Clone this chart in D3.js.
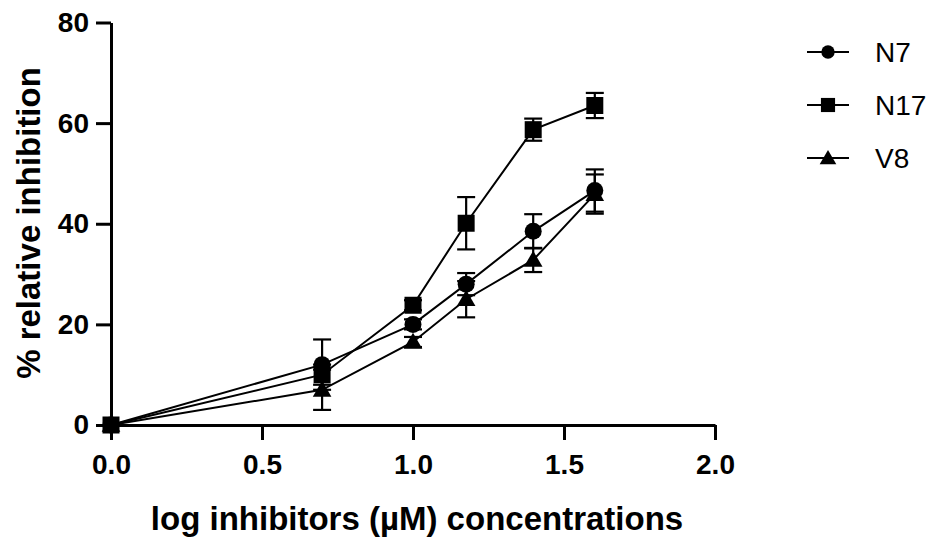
<!DOCTYPE html>
<html>
<head>
<meta charset="utf-8">
<script src="https://cdn.jsdelivr.net/npm/d3@7"></script>
<style>
  html, body { margin: 0; padding: 0; background: #fff; }
  svg { display: block; }
</style>
</head>
<body>
<script>
// ---- data ----
const xValues = [0, 0.699, 1.0, 1.176, 1.398, 1.602];
const seriesNames = ["N7", "N17", "V8"];
const n7Values  = [0, 12.0, 20.0, 28.0, 38.5, 46.6];
const n7Errors  = [0, 5.0, 1.0, 2.2, 3.4, 4.2];
const n17Values = [0, 10.0, 23.8, 40.1, 58.7, 63.5];
const n17Errors = [0, 2.0, 1.0, 5.2, 2.2, 2.5];
const v8Values  = [0, 7.0, 16.5, 25.0, 32.8, 45.9];
const v8Errors  = [0, 4.0, 1.0, 3.6, 2.4, 3.9];
const xTicks = [0, 0.5, 1.0, 1.5, 2.0];
const yTicks = [0, 20, 40, 60, 80];
const xTitle = "log inhibitors (µM) concentrations";
const yTitle = "% relative inhibition";

const W = 934, H = 539;
const svg = d3.select("body").append("svg").attr("width", W).attr("height", H);

const x = d3.scaleLinear().domain([0, 2]).range([111, 715]);
const y = d3.scaleLinear().domain([0, 80]).range([425, 22.5]);

const symbols = [d3.symbolCircle, d3.symbolSquare, d3.symbolTriangle];
const symSizes = [227, 289, 150];
const legSizes = [140, 200, 120];

const series = [
  { name: seriesNames[0], v: n7Values, e: n7Errors },
  { name: seriesNames[1], v: n17Values, e: n17Errors },
  { name: seriesNames[2], v: v8Values, e: v8Errors }
];

// axes
const font = "'Liberation Sans', Arial, Helvetica, sans-serif";
const xAxis = svg.append("g").attr("transform", `translate(0,${y(0)})`)
  .call(d3.axisBottom(x).tickValues(xTicks).tickFormat(d3.format(".1f")).tickSize(15).tickSizeOuter(0).tickPadding(14));
const yAxis = svg.append("g").attr("transform", `translate(${x(0)},0)`)
  .call(d3.axisLeft(y).tickValues(yTicks).tickFormat(d3.format("d")).tickSize(15).tickSizeOuter(0).tickPadding(7));
[xAxis, yAxis].forEach(g => {
  g.select(".domain").attr("stroke", "#000").attr("stroke-width", 3);
  g.selectAll(".tick line").attr("stroke", "#000").attr("stroke-width", 3);
  g.selectAll(".tick text").attr("fill", "#000")
    .style("font-family", font).style("font-weight", "bold").style("font-size", "28px");
});

// series
const line = d3.line().x((d, i) => x(xValues[i])).y(d => y(d));
series.forEach((s, k) => {
  const g = svg.append("g");
  // error bars
  s.v.forEach((v, i) => {
    if (!s.e[i]) return;
    const cx = x(xValues[i]);
    const top = y(v + s.e[i]), bot = y(v - s.e[i]);
    g.append("line").attr("x1", cx).attr("x2", cx).attr("y1", top).attr("y2", bot)
      .attr("stroke", "#000").attr("stroke-width", 2.2);
    [top, bot].forEach(yy => g.append("line").attr("x1", cx - 9).attr("x2", cx + 9)
      .attr("y1", yy).attr("y2", yy).attr("stroke", "#000").attr("stroke-width", 2.2));
  });
  g.append("path").datum(s.v).attr("d", line).attr("fill", "none")
    .attr("stroke", "#000").attr("stroke-width", 2);
  const sym = d3.symbol().type(symbols[k]).size(symSizes[k]);
  s.v.forEach((v, i) => {
    g.append("path").attr("d", sym())
      .attr("transform", `translate(${x(xValues[i])},${y(v) + (k === 2 ? 1.5 : 0)})`)
      .attr("fill", "#000");
  });
});

// legend
const legY = [52, 105, 158];
series.forEach((s, k) => {
  const g = svg.append("g").attr("transform", `translate(828,${legY[k]})`);
  g.append("line").attr("x1", -21).attr("x2", 21).attr("stroke", "#000").attr("stroke-width", 2);
  g.append("path").attr("d", d3.symbol().type(symbols[k]).size(legSizes[k])())
    .attr("transform", k === 2 ? "translate(0,1.5)" : null).attr("fill", "#000");
  g.append("text").attr("x", 47).attr("y", 10).text(s.name)
    .style("font-family", font).style("font-size", "28px").attr("fill", "#000");
});

// titles
svg.append("text").attr("x", 417).attr("y", 530).attr("text-anchor", "middle")
  .style("font-family", font).style("font-weight", "bold").style("font-size", "33px")
  .text(xTitle);
svg.append("text").attr("transform", "translate(40,223) rotate(-90)").attr("text-anchor", "middle")
  .style("font-family", font).style("font-weight", "bold").style("font-size", "33px")
  .text(yTitle);
</script>
</body>
</html>
